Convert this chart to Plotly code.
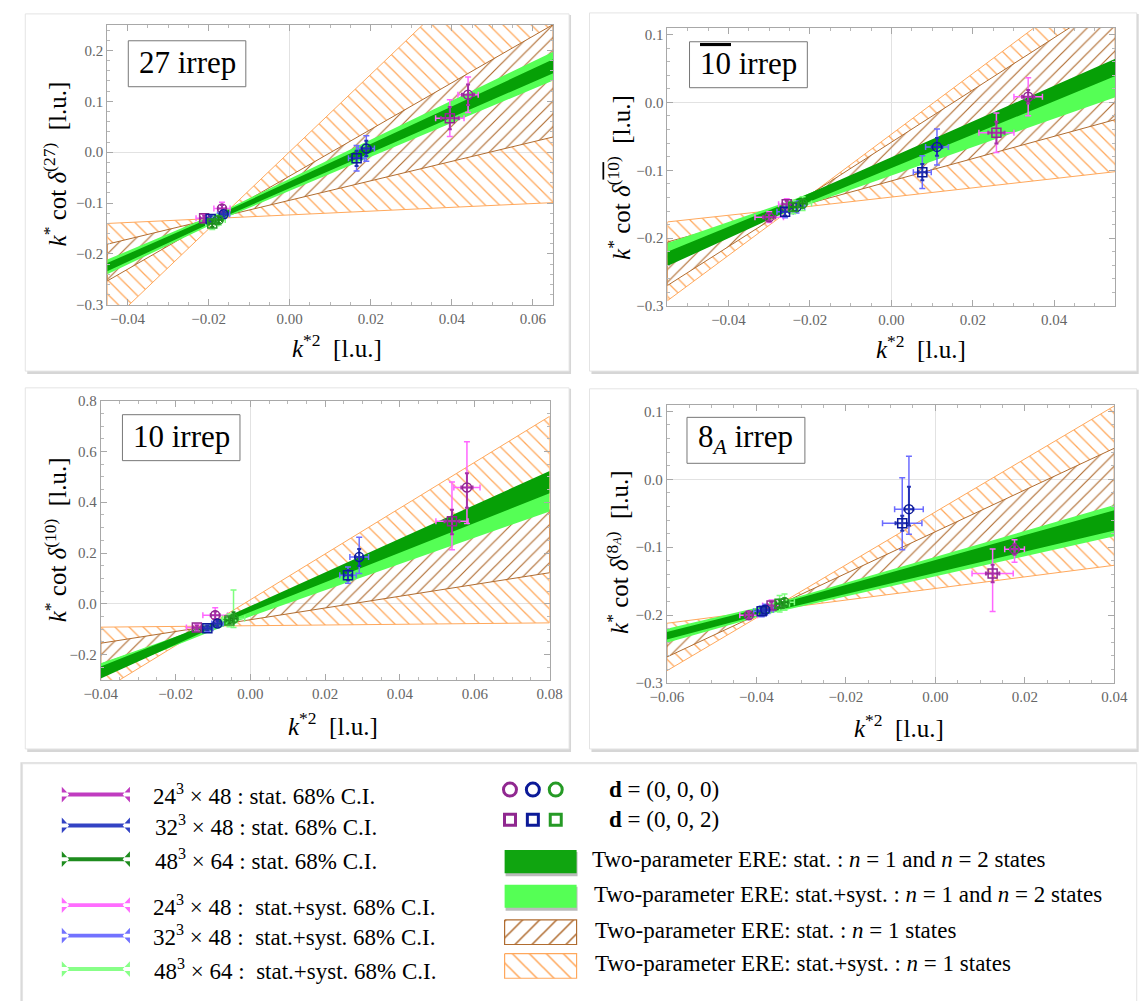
import plotly.graph_objects as go

W, H = 1140, 1001
SERIF = "Liberation Serif"

# ================= DATA =================
# ---- 27 irrep ----
p1_x = [0.0440, 0.0395, 0.0189, 0.0165, -0.0167, -0.0211, -0.0163, -0.0195, -0.0175, -0.0191]
p1_y = [0.113, 0.067, 0.0075, -0.012, -0.1105, -0.130, -0.122, -0.131, -0.133, -0.140]
p1_L = [24, 24, 32, 32, 24, 24, 32, 32, 48, 48]
p1_d = ['000', '002', '000', '002', '000', '002', '000', '002', '000', '002']
p1_stat_ex = [0.0015, 0.0022, 0.0012, 0.0012, 0.0010, 0.0010, 0.0008, 0.0008, 0.0008, 0.0008]
p1_syst_ex = [0.0025, 0.0035, 0.0020, 0.0020, 0.0020, 0.0020, 0.0015, 0.0015, 0.0016, 0.0016]
p1_stat_ey_up = [0.020, 0.022, 0.015, 0.015, 0.007, 0.005, 0.005, 0.005, 0.006, 0.007]
p1_stat_ey_dn = [0.020, 0.022, 0.015, 0.015, 0.007, 0.005, 0.005, 0.005, 0.006, 0.007]
p1_syst_ey_up = [0.035, 0.036, 0.025, 0.025, 0.012, 0.008, 0.008, 0.008, 0.010, 0.012]
p1_syst_ey_dn = [0.035, 0.036, 0.025, 0.025, 0.012, 0.008, 0.008, 0.008, 0.010, 0.012]
p1_n1_syst_x = [-0.045, -0.0172, 0.065]
p1_n1_syst_hi = [-0.140, -0.1296, 0.495]
p1_n1_syst_lo = [-0.341, -0.1296, -0.099]
p1_n1_stat_x = [-0.045, -0.0179, 0.065]
p1_n1_stat_hi = [-0.1807, -0.1287, 0.251]
p1_n1_stat_lo = [-0.253, -0.1287, 0.030]
p1_n12_x = [-0.045, -0.015, 0.065]
p1_n12_syst_hi = [-0.211, -0.110, 0.1974]
p1_n12_syst_lo = [-0.240, -0.126, 0.141]
p1_n12_stat_hi = [-0.2177, -0.113, 0.1825]
p1_n12_stat_lo = [-0.2338, -0.123, 0.1553]

# ---- 10-bar irrep ----
p2_x = [0.0336, 0.0258, 0.0112, 0.0076, -0.0300, -0.0257, -0.0233, -0.0261, -0.0218, -0.0241]
p2_y = [0.0084, -0.0446, -0.0655, -0.1027, -0.169, -0.150, -0.154, -0.161, -0.149, -0.154]
p2_L = [24, 24, 32, 32, 24, 24, 32, 32, 48, 48]
p2_d = ['000', '002', '000', '002', '000', '002', '000', '002', '000', '002']
p2_stat_ex = [0.0015, 0.0020, 0.0013, 0.0010, 0.0015, 0.0010, 0.0010, 0.0010, 0.0010, 0.0010]
p2_syst_ex = [0.0035, 0.0043, 0.0028, 0.0022, 0.0035, 0.0020, 0.0020, 0.0020, 0.0022, 0.0022]
p2_stat_ey_up = [0.010, 0.016, 0.013, 0.012, 0.005, 0.005, 0.006, 0.006, 0.006, 0.006]
p2_stat_ey_dn = [0.010, 0.016, 0.013, 0.012, 0.005, 0.005, 0.006, 0.006, 0.006, 0.006]
p2_syst_ey_up = [0.028, 0.029, 0.0265, 0.024, 0.008, 0.008, 0.009, 0.009, 0.010, 0.010]
p2_syst_ey_dn = [0.028, 0.029, 0.0265, 0.024, 0.008, 0.008, 0.009, 0.009, 0.010, 0.010]
p2_n1_syst_x = [-0.055, -0.0244, 0.055]
p2_n1_syst_hi = [-0.176, -0.156, 0.199]
p2_n1_syst_lo = [-0.292, -0.156, -0.102]
p2_n1_stat_x = [-0.055, -0.0258, 0.055]
p2_n1_stat_hi = [-0.2055, -0.158, 0.153]
p2_n1_stat_lo = [-0.2696, -0.158, -0.0253]
p2_n12_x = [-0.055, -0.024, 0.055]
p2_n12_syst_hi = [-0.207, -0.143, 0.0436]
p2_n12_syst_lo = [-0.232, -0.158, 0.0075]
p2_n12_stat_hi = [-0.220, -0.144, 0.0643]
p2_n12_stat_lo = [-0.241, -0.156, 0.0388]

# ---- 10 irrep ----
p3_x = [0.0579, 0.0539, 0.0291, 0.0261, -0.0094, -0.0143, -0.0088, -0.0115, -0.0045, -0.0056]
p3_y = [0.458, 0.325, 0.184, 0.113, -0.045, -0.093, -0.077, -0.0955, -0.058, -0.065]
p3_L = [24, 24, 32, 32, 24, 24, 32, 32, 48, 48]
p3_d = ['000', '002', '000', '002', '000', '002', '000', '002', '000', '002']
p3_stat_ex = [0.0015, 0.0020, 0.0010, 0.0010, 0.0012, 0.0010, 0.0008, 0.0008, 0.0010, 0.0010]
p3_syst_ex = [0.0035, 0.0043, 0.0025, 0.0022, 0.0033, 0.0028, 0.0015, 0.0015, 0.0030, 0.0020]
p3_stat_ey_up = [0.056, 0.045, 0.032, 0.020, 0.015, 0.008, 0.010, 0.008, 0.025, 0.012]
p3_stat_ey_dn = [0.080, 0.051, 0.035, 0.020, 0.015, 0.008, 0.010, 0.008, 0.015, 0.012]
p3_syst_ey_up = [0.180, 0.155, 0.078, 0.032, 0.030, 0.014, 0.015, 0.012, 0.113, 0.025]
p3_syst_ey_dn = [0.142, 0.112, 0.064, 0.032, 0.030, 0.014, 0.015, 0.012, 0.035, 0.025]
p3_n1_syst_x = [-0.04, -0.0115, 0.08]
p3_n1_syst_hi = [-0.0916, -0.0876, 0.738]
p3_n1_syst_lo = [-0.345, -0.0876, -0.0748]
p3_n1_stat_x = [-0.04, -0.010, 0.08]
p3_n1_stat_hi = [-0.155, -0.0856, 0.37]
p3_n1_stat_lo = [-0.237, -0.0856, 0.1226]
p3_n12_x = [-0.04, -0.005, 0.08]
p3_n12_syst_hi = [-0.2335, -0.052, 0.448]
p3_n12_syst_lo = [-0.281, -0.076, 0.364]
p3_n12_stat_hi = [-0.2465, -0.042, 0.5226]
p3_n12_stat_lo = [-0.294, -0.061, 0.435]

# ---- 8_A irrep ----
p4_x = [-0.0059, -0.0074, 0.0177, 0.0128, -0.0417, -0.0366, -0.0380, -0.0388, -0.0337, -0.0348]
p4_y = [-0.044, -0.0647, -0.103, -0.1387, -0.2002, -0.1857, -0.192, -0.1944, -0.181, -0.1833]
p4_L = [32, 32, 24, 24, 24, 24, 32, 32, 48, 48]
p4_d = ['000', '002', '000', '002', '000', '002', '000', '002', '000', '002']
p4_stat_ex = [0.0010, 0.0015, 0.0010, 0.0015, 0.0008, 0.0008, 0.0008, 0.0008, 0.0008, 0.0008]
p4_syst_ex = [0.0032, 0.0044, 0.0022, 0.0046, 0.0020, 0.0020, 0.0018, 0.0018, 0.0022, 0.0022]
p4_stat_ey_up = [0.033, 0.011, 0.008, 0.013, 0.004, 0.005, 0.005, 0.005, 0.006, 0.006]
p4_stat_ey_dn = [0.024, 0.011, 0.008, 0.013, 0.004, 0.005, 0.005, 0.005, 0.006, 0.006]
p4_syst_ey_up = [0.078, 0.067, 0.014, 0.036, 0.006, 0.008, 0.008, 0.008, 0.012, 0.012]
p4_syst_ey_dn = [0.037, 0.039, 0.019, 0.056, 0.006, 0.008, 0.008, 0.008, 0.012, 0.012]
p4_n1_syst_x = [-0.06, -0.037, 0.04]
p4_n1_syst_hi = [-0.212, -0.1924, 0.108]
p4_n1_syst_lo = [-0.282, -0.1924, -0.1266]
p4_n1_stat_x = [-0.06, -0.0359, 0.04]
p4_n1_stat_hi = [-0.225, -0.1876, 0.0457]
p4_n1_stat_lo = [-0.2617, -0.1876, -0.070]
p4_n12_x = [-0.06, -0.036, 0.04]
p4_n12_syst_hi = [-0.2202, -0.183, -0.0378]
p4_n12_syst_lo = [-0.2408, -0.196, -0.0839]
p4_n12_stat_hi = [-0.225, -0.185, -0.0455]
p4_n12_stat_lo = [-0.236, -0.194, -0.0753]

# ---- legend texts ----
legend_err_labels = [
    "24<sup>3</sup> × 48 : stat. 68% C.I.",
    "32<sup>3</sup> × 48 : stat. 68% C.I.",
    "48<sup>3</sup> × 64 : stat. 68% C.I.",
    "24<sup>3</sup> × 48 :\u00a0 stat.+syst. 68% C.I.",
    "32<sup>3</sup> × 48 :\u00a0 stat.+syst. 68% C.I.",
    "48<sup>3</sup> × 64 :\u00a0 stat.+syst. 68% C.I.",
]
legend_d_labels = ["<b>d</b> = (0, 0, 0)", "<b>d</b> = (0, 0, 2)"]
legend_band_labels = [
    "Two-parameter ERE: stat. : <i>n</i> = 1 and <i>n</i> = 2 states",
    "Two-parameter ERE: stat.+syst. : <i>n</i> = 1 and <i>n</i> = 2 states",
    "Two-parameter ERE: stat. : <i>n</i> = 1 states",
    "Two-parameter ERE: stat.+syst. : <i>n</i> = 1 states",
]

# ================= STYLE =================
STAT_COL = {24: '#A82FA8', 32: '#2432B4', 48: '#1A8A1A'}
SYST_COL = {24: '#FF66FF', 32: '#6C6CFF', 48: '#7DFF7D'}
MARK_COL = {24: '#902890', 32: '#0C1A98', 48: '#259A25'}
LEG_STAT_COL = ['#C03CC0', '#3343C4', '#1E8C1E', '#FF6CFF', '#7272FF', '#88FF88']
SYM = {'000': 'circle-open', '002': 'square-open'}
ORANGE = '#FFA85C'
BROWN = '#B06C30'
LIGHT_GREEN = '#55FF55'
DARK_GREEN = '#06A006'
LEG_FONT = 23


def pxx(p):
    return p / W


def pxy(p):
    return 1 - p / H


panels = [
    dict(n=1, px=(92.7, 550.7), py=(17.3, 301.7), xr=[-0.045, 0.065], yr=[-0.3, 0.25],
         yd=0.1, ym=0.02, yf='.1f', xd=0.02, xm=0.005,
         card=(8.5, 6, 567, 369), box=(114.3, 33.3, 235, 80),
         label="27 irrep", ytxt="<i>k</i><sup>*</sup> cot <i>δ</i><sup>(27)</sup>\u00a0 [l.u.]",
         xt=(329, 343), yt=(40, 158)),
    dict(n=2, px=(668, 1128), py=(20, 303), xr=[-0.055, 0.055], yr=[-0.3, 0.11],
         yd=0.1, ym=0.02, yf='.1f', xd=0.02, xm=0.005,
         card=(588, 5, 1150, 369), box=(690.7, 34.3, 811.7, 81),
         label="<span style='text-decoration:overline'>10</span> irrep",
         ytxt="<i>k</i><sup>*</sup> cot <i>δ</i><sup>(<span style='text-decoration:overline'>10</span>)</sup>\u00a0 [l.u.]",
         xt=(928, 345), yt=(619, 172)),
    dict(n=3, px=(86, 547), py=(399, 683), xr=[-0.04, 0.08], yr=[-0.3, 0.8],
         yd=0.2, ym=0.05, yf='.1f', xd=0.02, xm=0.005,
         card=(8.5, 386, 567, 753), box=(108.3, 413.3, 229, 460),
         label="10 irrep", ytxt="<i>k</i><sup>*</sup> cot <i>δ</i><sup>(10)</sup>\u00a0 [l.u.]",
         xt=(325, 728), yt=(40, 540)),
    dict(n=4, px=(667.4, 1127), py=(403, 686), xr=[-0.06, 0.04], yr=[-0.3, 0.11],
         yd=0.1, ym=0.02, yf='.1f', xd=0.02, xm=0.005,
         card=(588, 387, 1150, 753), box=(688.1, 416, 809.2, 462.7),
         label="8<sub><i>A</i></sub> irrep",
         ytxt="<i>k</i><sup>*</sup> cot <i>δ</i><sup>(8<sub><i>A</i></sub>)</sup>\u00a0 [l.u.]",
         xt=(906, 730), yt=(617, 553)),
]
pdata = {
    1: (p1_x, p1_y, p1_L, p1_d, p1_stat_ex, p1_syst_ex, p1_stat_ey_up, p1_stat_ey_dn, p1_syst_ey_up, p1_syst_ey_dn,
        (p1_n1_syst_x, p1_n1_syst_hi, p1_n1_syst_lo), (p1_n1_stat_x, p1_n1_stat_hi, p1_n1_stat_lo),
        (p1_n12_x, p1_n12_syst_hi, p1_n12_syst_lo), (p1_n12_x, p1_n12_stat_hi, p1_n12_stat_lo)),
    2: (p2_x, p2_y, p2_L, p2_d, p2_stat_ex, p2_syst_ex, p2_stat_ey_up, p2_stat_ey_dn, p2_syst_ey_up, p2_syst_ey_dn,
        (p2_n1_syst_x, p2_n1_syst_hi, p2_n1_syst_lo), (p2_n1_stat_x, p2_n1_stat_hi, p2_n1_stat_lo),
        (p2_n12_x, p2_n12_syst_hi, p2_n12_syst_lo), (p2_n12_x, p2_n12_stat_hi, p2_n12_stat_lo)),
    3: (p3_x, p3_y, p3_L, p3_d, p3_stat_ex, p3_syst_ex, p3_stat_ey_up, p3_stat_ey_dn, p3_syst_ey_up, p3_syst_ey_dn,
        (p3_n1_syst_x, p3_n1_syst_hi, p3_n1_syst_lo), (p3_n1_stat_x, p3_n1_stat_hi, p3_n1_stat_lo),
        (p3_n12_x, p3_n12_syst_hi, p3_n12_syst_lo), (p3_n12_x, p3_n12_stat_hi, p3_n12_stat_lo)),
    4: (p4_x, p4_y, p4_L, p4_d, p4_stat_ex, p4_syst_ex, p4_stat_ey_up, p4_stat_ey_dn, p4_syst_ey_up, p4_syst_ey_dn,
        (p4_n1_syst_x, p4_n1_syst_hi, p4_n1_syst_lo), (p4_n1_stat_x, p4_n1_stat_hi, p4_n1_stat_lo),
        (p4_n12_x, p4_n12_syst_hi, p4_n12_syst_lo), (p4_n12_x, p4_n12_stat_hi, p4_n12_stat_lo)),
}

fig = go.Figure()
shapes = []
annotations = []
layout_axes = {}


def poly(xs, hi, lo):
    return list(xs) + list(xs)[::-1] + [xs[0]], list(hi) + list(lo)[::-1] + [hi[0]]


def pattern(shape, col, size):
    return dict(shape=shape, fgcolor=col, bgcolor='rgba(0,0,0,0)', size=size, solidity=0.13,
                fillmode='replace')


for P in panels:
    n = P['n']
    sfx = '' if n == 1 else str(n)
    xa, ya = 'x' + sfx, 'y' + sfx
    (X, Y, L, D, sex, tex, seyu, seyd, teyu, teyd, bsyst, bstat, gsyst, gstat) = pdata[n]

    # card with shadow
    cx0, cy0, cx1, cy1 = P['card']
    shapes.append(dict(type='rect', xref='paper', yref='paper', layer='below',
                       x0=pxx(cx0 + 2), x1=pxx(cx1 + 2), y0=pxy(cy1 + 3), y1=pxy(cy0 + 1),
                       fillcolor='#D6D6D6', line=dict(width=0)))
    shapes.append(dict(type='rect', xref='paper', yref='paper', layer='below',
                       x0=pxx(cx0), x1=pxx(cx1), y0=pxy(cy1), y1=pxy(cy0),
                       fillcolor='white', line=dict(color='#E4E4E4', width=1)))

    # orange (stat+syst, n=1) hatch only outside the brown (stat, n=1) band
    ox, ohi, olo = bsyst
    bx, bhi, blo = bstat
    up_x = list(ox) + list(bx)[::-1] + [ox[0]]
    up_y = list(ohi) + list(bhi)[::-1] + [ohi[0]]
    lo_x = list(bx) + list(ox)[::-1] + [bx[0]]
    lo_y = list(blo) + list(olo)[::-1] + [blo[0]]
    for sx_, sy_ in ((up_x, up_y), (lo_x, lo_y)):
        fig.add_trace(go.Scatter(x=sx_, y=sy_, xaxis=xa, yaxis=ya, mode='lines', fill='toself',
                                 fillcolor='rgba(0,0,0,0)', fillpattern=pattern('\\', ORANGE, 10),
                                 line=dict(width=0, color=ORANGE), hoverinfo='skip', showlegend=False))
    opx, opy = poly(*bsyst)
    fig.add_trace(go.Scatter(x=opx, y=opy, xaxis=xa, yaxis=ya, mode='lines',
                             line=dict(color=ORANGE, width=1), hoverinfo='skip', showlegend=False))
    bpx, bpy = poly(*bstat)
    fig.add_trace(go.Scatter(x=bpx, y=bpy, xaxis=xa, yaxis=ya, mode='lines', fill='toself',
                             fillcolor='rgba(0,0,0,0)', fillpattern=pattern('/', BROWN, 9),
                             line=dict(color=BROWN, width=1), hoverinfo='skip', showlegend=False))
    # solid green bands
    for band, col in ((gsyst, LIGHT_GREEN), (gstat, DARK_GREEN)):
        px_, py_ = poly(*band)
        fig.add_trace(go.Scatter(x=px_, y=py_, xaxis=xa, yaxis=ya, mode='lines', fill='toself',
                                 fillcolor=col, line=dict(width=0), hoverinfo='skip', showlegend=False))

    # data points: syst error bars first, stat on top
    for kind in ('syst', 'stat'):
        for ens in (24, 32, 48):
            idx = [i for i, l in enumerate(L) if l == ens]
            if not idx:
                continue
            xs = [X[i] for i in idx]
            ys = [Y[i] for i in idx]
            if kind == 'syst':
                ex = [tex[i] for i in idx]
                eyu = [teyu[i] for i in idx]
                eyd = [teyd[i] for i in idx]
                col, th, wd = SYST_COL[ens], 1.5, 3
                marker = dict(size=9, color='rgba(0,0,0,0)')
            else:
                ex = [sex[i] for i in idx]
                eyu = [seyu[i] for i in idx]
                eyd = [seyd[i] for i in idx]
                col, th, wd = STAT_COL[ens], 2, 2
                marker = dict(size=9, color=MARK_COL[ens], symbol=[SYM[D[i]] for i in idx],
                              line=dict(width=1.5))
            fig.add_trace(go.Scatter(
                x=xs, y=ys, xaxis=xa, yaxis=ya, mode='markers', marker=marker,
                error_x=dict(type='data', array=ex, color=col, thickness=th, width=wd),
                error_y=dict(type='data', symmetric=False, array=eyu, arrayminus=eyd,
                             color=col, thickness=th, width=wd),
                hoverinfo='skip', showlegend=False))

    common = dict(showline=True, linecolor='#A8A8A8', linewidth=1, mirror='ticks',
                  ticks='inside', ticklen=6, tickcolor='#A8A8A8', tickwidth=1,
                  showgrid=False, zeroline=True, zerolinecolor='#E2E2E2', zerolinewidth=1,
                  tickfont=dict(family=SERIF, size=15, color='#666666'), fixedrange=True,
                  tickmode='linear', tick0=0)
    layout_axes['xaxis' + sfx] = dict(common, domain=[pxx(P['px'][0]), pxx(P['px'][1])], anchor=ya,
                                      range=P['xr'], dtick=P['xd'], tickformat='.2f',
                                      minor=dict(ticks='inside', ticklen=3, dtick=P['xm'], tickcolor='#B8B8B8'))
    layout_axes['yaxis' + sfx] = dict(common, domain=[pxy(P['py'][1]), pxy(P['py'][0])], anchor=xa,
                                      range=P['yr'], dtick=P['yd'], tickformat=P['yf'],
                                      minor=dict(ticks='inside', ticklen=3, dtick=P['ym'], tickcolor='#B8B8B8'))

    # irrep label box
    bx0, by0, bx1, by1 = P['box']
    shapes.append(dict(type='rect', xref='paper', yref='paper', layer='above',
                       x0=pxx(bx0), x1=pxx(bx1), y0=pxy(by1), y1=pxy(by0),
                       fillcolor='white', line=dict(color='#777777', width=1)))
    annotations.append(dict(xref='paper', yref='paper', x=pxx((bx0 + bx1) / 2), y=pxy((by0 + by1) / 2 - 1),
                            xanchor='center', yanchor='middle', showarrow=False, text=P['label'],
                            font=dict(family=SERIF, size=31, color='black')))
    # axis titles
    annotations.append(dict(xref='paper', yref='paper', x=pxx(P['xt'][0]), y=pxy(P['xt'][1]),
                            xanchor='center', yanchor='middle', showarrow=False,
                            text="<i>k</i><sup>*2</sup>\u00a0 [l.u.]",
                            font=dict(family=SERIF, size=25, color='black')))
    annotations.append(dict(xref='paper', yref='paper', x=pxx(P['yt'][0]), y=pxy(P['yt'][1]),
                            xanchor='center', yanchor='middle', showarrow=False, textangle=-90,
                            text=P['ytxt'], font=dict(family=SERIF, size=25, color='black')))

# ================= LEGEND =================
LEG_TOP = 768
shapes.append(dict(type='rect', xref='paper', yref='paper', layer='below',
                   x0=pxx(3.5), x1=pxx(1150), y0=pxy(1010), y1=pxy(LEG_TOP - 1.5),
                   fillcolor='#DADADA', line=dict(width=0)))
shapes.append(dict(type='rect', xref='paper', yref='paper', layer='below',
                   x0=pxx(5.7), x1=pxx(1150), y0=pxy(1010), y1=pxy(LEG_TOP),
                   fillcolor='white', line=dict(color='#E4E4E4', width=1)))

lx = 'x5'
ly = 'y5'
err_rows_y = [799.3, 830.7, 865, 911.7, 942.7, 976.7]
err_text_x = [137.4, 140, 140, 137.4, 137.4, 138.5]
ix0, ix1 = 46, 116
for i, yy in enumerate(err_rows_y):
    path = (f"M {ix0},{yy - 8} L {ix0 + 7.5},{yy} L {ix0},{yy + 8} Z "
            f"M {ix1},{yy - 8} L {ix1 - 7.5},{yy} L {ix1},{yy + 8} Z "
            f"M {ix0},{yy - 2} L {ix1},{yy - 2} L {ix1},{yy + 2} L {ix0},{yy + 2} Z")
    shapes.append(dict(type='path', xref=lx, yref=ly, path=path, fillcolor=LEG_STAT_COL[i],
                       line=dict(width=0), layer='above'))
    annotations.append(dict(xref='paper', yref='paper', x=pxx(err_text_x[i]), y=pxy(yy),
                            xanchor='left', yanchor='middle', showarrow=False,
                            text=legend_err_labels[i], font=dict(family=SERIF, size=LEG_FONT, color='black')))

sym_x = [506.3, 529.8, 553.3]
sym_cols = [MARK_COL[24], MARK_COL[32], MARK_COL[48]]
fig.add_trace(go.Scatter(x=sym_x, y=[794.3] * 3, xaxis=lx, yaxis=ly, mode='markers',
                         marker=dict(symbol='circle-open', size=13, color=sym_cols, line=dict(width=3)),
                         hoverinfo='skip', showlegend=False))
fig.add_trace(go.Scatter(x=sym_x, y=[825] * 3, xaxis=lx, yaxis=ly, mode='markers',
                         marker=dict(symbol='square-open', size=11, color=sym_cols, line=dict(width=3)),
                         hoverinfo='skip', showlegend=False))
for yy, t in zip([794.3, 825], legend_d_labels):
    annotations.append(dict(xref='paper', yref='paper', x=pxx(605.9), y=pxy(yy),
                            xanchor='left', yanchor='middle', showarrow=False,
                            text=t, font=dict(family=SERIF, size=LEG_FONT, color='black')))

rx0, rx1 = 500.8, 574.7
band_rows = [(855.7, 879.3), (891, 914.3), (926.7, 951.7), (961, 986)]
band_text_x = [588.8, 591, 592, 592]
for k, (y0, y1) in enumerate(band_rows):
    if k < 2:
        shapes.append(dict(type='rect', xref='paper', yref='paper', layer='below',
                           x0=pxx(rx0 + 1), x1=pxx(rx1 + 1), y0=pxy(y1 + 3), y1=pxy(y0 + 2),
                           fillcolor='#BBBBBB', line=dict(width=0)))
        shapes.append(dict(type='rect', xref='paper', yref='paper', layer='above',
                           x0=pxx(rx0), x1=pxx(rx1), y0=pxy(y1), y1=pxy(y0),
                           fillcolor='#10A510' if k == 0 else LIGHT_GREEN, line=dict(width=0)))
    else:
        shp, col = ('/', BROWN) if k == 2 else ('\\', ORANGE)
        fig.add_trace(go.Scatter(x=[rx0, rx1, rx1, rx0, rx0], y=[y0, y0, y1, y1, y0],
                                 xaxis=lx, yaxis=ly, mode='lines', fill='toself',
                                 fillcolor='rgba(0,0,0,0)', fillpattern=pattern(shp, col, 12),
                                 line=dict(color=col, width=1.2), hoverinfo='skip', showlegend=False))
    annotations.append(dict(xref='paper', yref='paper', x=pxx(band_text_x[k]), y=pxy((y0 + y1) / 2 - 2),
                            xanchor='left', yanchor='middle', showarrow=False,
                            text=legend_band_labels[k], font=dict(family=SERIF, size=LEG_FONT, color='black')))

layout_axes['xaxis5'] = dict(domain=[0, 1], range=[0, W], visible=False, anchor='y5', fixedrange=True)
layout_axes['yaxis5'] = dict(domain=[0, pxy(LEG_TOP)], range=[H, LEG_TOP], visible=False, anchor='x5',
                             fixedrange=True)

fig.update_layout(
    width=W, height=H, margin=dict(l=0, r=0, t=0, b=0),
    paper_bgcolor='white', plot_bgcolor='rgba(0,0,0,0)',
    showlegend=False, shapes=shapes, annotations=annotations,
    font=dict(family=SERIF),
    **layout_axes,
)

fig.write_html("out.html", config={'staticPlot': True},
               post_script="document.body.style.margin='0px';document.body.style.overflow='hidden';")
